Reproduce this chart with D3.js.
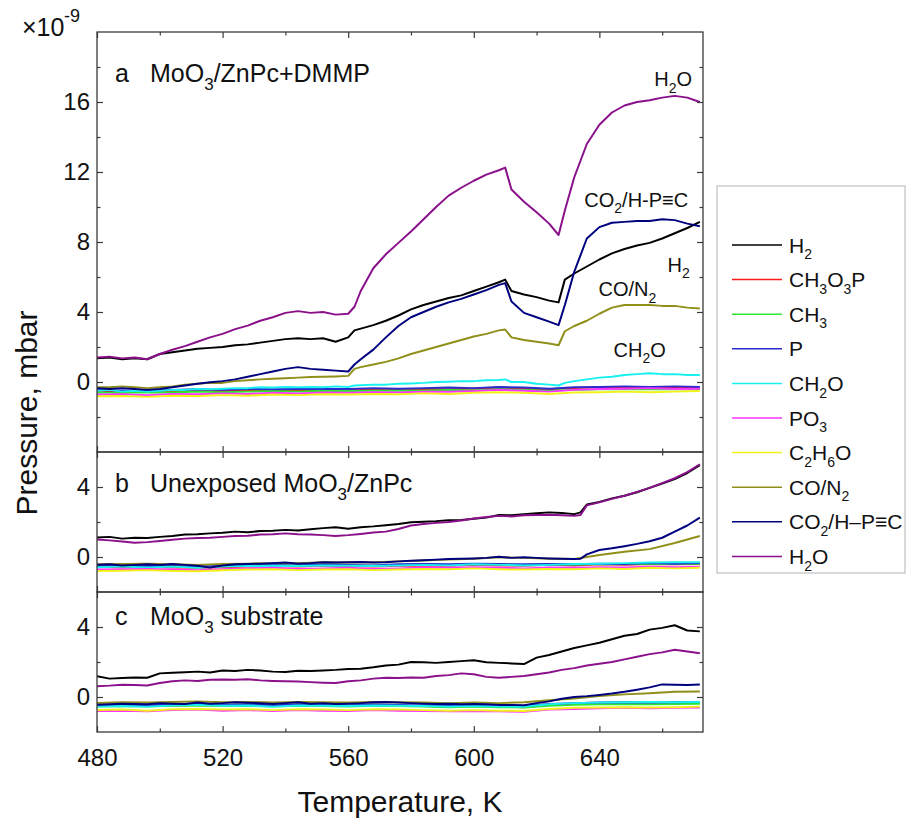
<!DOCTYPE html>
<html>
<head>
<meta charset="utf-8">
<script src="https://cdn.jsdelivr.net/npm/d3@7"></script>
<style>
  body { margin: 0; background: #fff; }
  svg { font-family: 'Liberation Sans', Arial, sans-serif; }
</style>
</head>
<body>
<svg width="907" height="818"></svg>
<script>
// Species, in legend order (underscore + digit = subscript)
const species = ['H_2', 'CH_3O_3P', 'CH_3', 'P', 'CH_2O', 'PO_3', 'C_2H_6O', 'CO/N_2', 'CO_2/H–P≡C', 'H_2O'];
const colors = ['#000000', '#ff1a1a', '#2ee82e', '#2b2bd0', '#19f0f0', '#ff33ff', '#f2f21a', '#8f8f1a', '#00007f', '#8b108b'];

const xTicks = [480, 500, 520, 540, 560, 580, 600, 620, 640, 660];
const xLabels = [480, 520, 560, 600, 640];

// Coarse temperature grid for the flat baseline traces
const tempBase = [480, 488, 496, 504, 512, 520, 528, 536, 544, 552, 560, 568, 576, 584, 592, 600, 608, 616, 624, 632, 640, 648, 656, 664, 672];

// ---- panel a: MoO3/ZnPc+DMMP ----
const tempA = [480, 484, 488, 492, 496, 500, 504, 508, 512, 516, 520, 524, 528, 532, 536, 540, 544, 548, 552, 556, 560,
  562, 564, 568, 572, 576, 580, 584, 588, 592, 596, 600, 604, 608, 610, 612, 616, 620, 624, 627, 629,
  632, 636, 640, 644, 648, 652, 656, 660, 664, 668, 672];
const h2A = [1.35, 1.40, 1.30, 1.35, 1.30, 1.60, 1.70, 1.80, 1.90, 1.95, 2.00, 2.10, 2.15, 2.25, 2.35, 2.45, 2.50, 2.45, 2.50, 2.30, 2.55,
  2.95, 3.05, 3.25, 3.50, 3.80, 4.15, 4.40, 4.60, 4.80, 4.95, 5.20, 5.45, 5.70, 5.85, 5.20, 5.00, 4.85, 4.65, 4.55, 5.85,
  6.20, 6.60, 7.00, 7.35, 7.60, 7.80, 7.95, 8.20, 8.50, 8.80, 9.15];
const ch2oA = [-0.50, -0.45, -0.55, -0.50, -0.55, -0.50, -0.45, -0.45, -0.40, -0.42, -0.38, -0.35, -0.35, -0.30, -0.32, -0.28, -0.30, -0.28, -0.30, -0.25, -0.28,
  -0.20, -0.18, -0.15, -0.15, -0.10, -0.08, -0.05, 0.00, 0.02, 0.05, 0.05, 0.10, 0.12, 0.15, 0.00, 0.00, -0.10, -0.15, -0.20, -0.05,
  0.05, 0.15, 0.25, 0.30, 0.40, 0.45, 0.50, 0.45, 0.45, 0.40, 0.40];
const coA = [-0.30, -0.30, -0.25, -0.30, -0.35, -0.30, -0.25, -0.15, -0.10, -0.05, -0.05, 0.05, 0.10, 0.15, 0.18, 0.22, 0.25, 0.28, 0.30, 0.32, 0.35,
  0.75, 0.85, 1.00, 1.15, 1.35, 1.60, 1.80, 2.00, 2.20, 2.40, 2.60, 2.75, 2.95, 3.00, 2.55, 2.40, 2.30, 2.20, 2.10, 2.90,
  3.20, 3.50, 3.90, 4.25, 4.40, 4.40, 4.40, 4.35, 4.35, 4.25, 4.20];
const co2A = [-0.35, -0.40, -0.35, -0.40, -0.45, -0.40, -0.30, -0.20, -0.10, -0.02, 0.05, 0.15, 0.30, 0.45, 0.60, 0.75, 0.85, 0.75, 0.70, 0.65, 0.60,
  1.00, 1.30, 1.85, 2.55, 3.20, 3.70, 4.00, 4.30, 4.55, 4.75, 5.00, 5.25, 5.55, 5.65, 4.60, 3.95, 3.70, 3.45, 3.25, 4.40,
  6.30, 8.20, 8.85, 9.10, 9.15, 9.20, 9.20, 9.30, 9.25, 9.05, 8.90];
const h2oA = [1.40, 1.45, 1.35, 1.40, 1.30, 1.60, 1.84, 2.05, 2.30, 2.55, 2.75, 3.02, 3.22, 3.50, 3.70, 3.95, 4.05, 3.95, 4.00, 3.85, 3.90,
  4.30, 5.20, 6.50, 7.30, 7.95, 8.60, 9.30, 10.00, 10.65, 11.10, 11.50, 11.85, 12.10, 12.25, 11.00, 10.30, 9.70, 9.05, 8.40, 9.80,
  11.70, 13.60, 14.70, 15.40, 15.80, 16.00, 16.10, 16.25, 16.35, 16.25, 16.00];
const ch3o3pA = [-0.55, -0.58, -0.52, -0.55, -0.50, -0.52, -0.48, -0.50, -0.45, -0.48, -0.45, -0.42, -0.45, -0.40, -0.42, -0.38, -0.32, -0.38, -0.42, -0.35, -0.30, -0.28, -0.32, -0.30, -0.35];
const ch3A = [-0.60, -0.62, -0.58, -0.60, -0.55, -0.58, -0.55, -0.52, -0.55, -0.50, -0.52, -0.50, -0.48, -0.50, -0.45, -0.48, -0.42, -0.45, -0.50, -0.45, -0.42, -0.40, -0.42, -0.40, -0.42];
const pA = [-0.45, -0.48, -0.50, -0.45, -0.42, -0.45, -0.40, -0.42, -0.40, -0.38, -0.40, -0.35, -0.38, -0.35, -0.32, -0.35, -0.28, -0.32, -0.38, -0.30, -0.28, -0.25, -0.28, -0.25, -0.28];
const po3A = [-0.72, -0.70, -0.75, -0.68, -0.70, -0.65, -0.68, -0.62, -0.65, -0.60, -0.62, -0.58, -0.60, -0.55, -0.55, -0.52, -0.45, -0.50, -0.55, -0.45, -0.40, -0.38, -0.35, -0.40, -0.38];
const c2h6oA = [-0.82, -0.80, -0.85, -0.78, -0.80, -0.75, -0.78, -0.72, -0.75, -0.70, -0.72, -0.68, -0.70, -0.65, -0.68, -0.62, -0.58, -0.62, -0.68, -0.60, -0.58, -0.55, -0.58, -0.55, -0.52];

// ---- panel b: unexposed MoO3/ZnPc ----
const tempB = [480, 484, 488, 492, 496, 500, 504, 508, 512, 516, 520, 524, 528, 532, 536, 540, 544, 548, 552, 556,
  560, 564, 568, 572, 576, 580, 584, 588, 592, 596, 600, 604, 608, 612, 616, 620, 624, 628, 632, 634,
  636, 640, 644, 648, 652, 656, 660, 664, 668, 672];
const h2B = [1.12, 1.15, 1.05, 1.10, 1.08, 1.15, 1.20, 1.28, 1.30, 1.35, 1.38, 1.45, 1.42, 1.48, 1.50, 1.55, 1.52, 1.58, 1.65, 1.70,
  1.62, 1.70, 1.75, 1.82, 1.88, 1.98, 2.02, 2.05, 2.10, 2.12, 2.18, 2.25, 2.40, 2.38, 2.45, 2.50, 2.55, 2.52, 2.45, 2.55,
  3.00, 3.15, 3.35, 3.50, 3.70, 3.95, 4.20, 4.45, 4.80, 5.25];
const co2B = [-0.45, -0.42, -0.48, -0.45, -0.42, -0.45, -0.40, -0.45, -0.50, -0.60, -0.48, -0.42, -0.40, -0.38, -0.35, -0.32, -0.38, -0.35, -0.30, -0.32,
  -0.30, -0.28, -0.32, -0.30, -0.25, -0.22, -0.18, -0.15, -0.12, -0.10, -0.08, -0.05, 0.02, -0.05, -0.02, -0.05, -0.08, -0.10, -0.12, -0.10,
  0.15, 0.40, 0.50, 0.62, 0.75, 0.90, 1.10, 1.45, 1.80, 2.25];
const h2oB = [1.00, 0.95, 0.88, 0.82, 0.85, 0.92, 0.98, 1.05, 1.08, 1.10, 1.15, 1.20, 1.22, 1.28, 1.30, 1.35, 1.30, 1.28, 1.25, 1.20,
  1.25, 1.32, 1.40, 1.45, 1.60, 1.80, 1.88, 1.95, 2.00, 2.08, 2.20, 2.28, 2.35, 2.32, 2.38, 2.40, 2.42, 2.38, 2.35, 2.40,
  2.95, 3.12, 3.32, 3.50, 3.72, 3.95, 4.22, 4.50, 4.85, 5.30];
const ch3o3pB = [-0.55, -0.58, -0.55, -0.60, -0.62, -0.58, -0.55, -0.52, -0.55, -0.50, -0.52, -0.55, -0.50, -0.48, -0.50, -0.45, -0.48, -0.50, -0.45, -0.48, -0.42, -0.45, -0.40, -0.42, -0.40];
const ch3B = [-0.50, -0.52, -0.48, -0.55, -0.58, -0.52, -0.50, -0.48, -0.50, -0.45, -0.48, -0.50, -0.45, -0.42, -0.45, -0.40, -0.42, -0.45, -0.42, -0.45, -0.40, -0.42, -0.38, -0.40, -0.38];
const pB = [-0.50, -0.48, -0.52, -0.50, -0.55, -0.50, -0.48, -0.45, -0.48, -0.42, -0.45, -0.48, -0.42, -0.40, -0.42, -0.38, -0.40, -0.42, -0.40, -0.42, -0.38, -0.40, -0.35, -0.38, -0.35];
const ch2oB = [-0.58, -0.55, -0.60, -0.55, -0.62, -0.55, -0.52, -0.50, -0.52, -0.48, -0.50, -0.52, -0.48, -0.45, -0.48, -0.42, -0.45, -0.48, -0.45, -0.40, -0.38, -0.35, -0.32, -0.30, -0.30];
const po3B = [-0.72, -0.70, -0.68, -0.72, -0.75, -0.70, -0.65, -0.62, -0.68, -0.65, -0.62, -0.68, -0.65, -0.60, -0.62, -0.58, -0.62, -0.65, -0.60, -0.62, -0.58, -0.60, -0.55, -0.58, -0.55];
const c2h6oB = [-0.80, -0.78, -0.75, -0.80, -0.82, -0.76, -0.72, -0.70, -0.75, -0.72, -0.70, -0.75, -0.72, -0.68, -0.70, -0.65, -0.70, -0.72, -0.68, -0.70, -0.65, -0.68, -0.62, -0.65, -0.62];
const coB = [-0.42, -0.40, -0.38, -0.42, -0.45, -0.40, -0.38, -0.35, -0.35, -0.30, -0.32, -0.30, -0.25, -0.20, -0.15, -0.10, -0.02, -0.05, -0.10, -0.12, 0.12, 0.30, 0.45, 0.80, 1.20];

// ---- panel c: MoO3 substrate ----
const tempC = [480, 484, 488, 492, 496, 500, 504, 508, 512, 516, 520, 524, 528, 532, 536, 540, 544, 548, 552, 556,
  560, 564, 568, 572, 576, 580, 584, 588, 592, 596, 600, 604, 608, 612, 616, 620, 624, 628, 632, 636,
  640, 644, 648, 652, 656, 660, 664, 668, 672];
const h2C = [1.18, 1.05, 1.08, 1.12, 1.10, 1.35, 1.38, 1.42, 1.45, 1.40, 1.52, 1.48, 1.55, 1.52, 1.45, 1.43, 1.50, 1.48, 1.52, 1.55,
  1.60, 1.62, 1.70, 1.80, 1.85, 2.00, 1.98, 1.95, 2.00, 2.05, 2.10, 1.98, 1.95, 1.92, 1.88, 2.25, 2.40, 2.60, 2.80, 2.95,
  3.10, 3.30, 3.50, 3.60, 3.85, 3.95, 4.10, 3.80, 3.75];
const co2C = [-0.45, -0.42, -0.38, -0.40, -0.42, -0.35, -0.38, -0.40, -0.32, -0.38, -0.35, -0.30, -0.33, -0.36, -0.40, -0.35, -0.30, -0.38, -0.35, -0.40,
  -0.38, -0.35, -0.30, -0.28, -0.32, -0.35, -0.38, -0.40, -0.38, -0.42, -0.40, -0.42, -0.45, -0.45, -0.47, -0.35, -0.25, -0.10, 0.00, 0.05,
  0.12, 0.20, 0.30, 0.42, 0.55, 0.72, 0.70, 0.68, 0.72];
const h2oC = [0.62, 0.65, 0.70, 0.68, 0.66, 0.80, 0.90, 0.95, 0.92, 0.98, 1.00, 0.98, 1.02, 0.95, 0.92, 0.90, 0.88, 0.85, 0.82, 0.80,
  0.90, 0.95, 1.05, 1.10, 1.08, 1.12, 1.10, 1.20, 1.25, 1.35, 1.30, 1.15, 1.10, 1.15, 1.20, 1.30, 1.40, 1.55, 1.65, 1.80,
  1.90, 2.00, 2.15, 2.30, 2.45, 2.55, 2.70, 2.60, 2.50];
const ch3o3pC = [-0.50, -0.52, -0.48, -0.50, -0.45, -0.50, -0.48, -0.52, -0.48, -0.50, -0.52, -0.48, -0.50, -0.52, -0.55, -0.52, -0.55, -0.58, -0.45, -0.40, -0.38, -0.35, -0.38, -0.35, -0.32];
const ch3C = [-0.55, -0.52, -0.55, -0.50, -0.48, -0.52, -0.50, -0.55, -0.50, -0.52, -0.55, -0.50, -0.52, -0.55, -0.58, -0.55, -0.58, -0.60, -0.50, -0.45, -0.42, -0.40, -0.42, -0.40, -0.38];
const pC = [-0.48, -0.45, -0.48, -0.42, -0.40, -0.45, -0.42, -0.48, -0.42, -0.45, -0.48, -0.42, -0.45, -0.48, -0.50, -0.48, -0.50, -0.52, -0.40, -0.35, -0.32, -0.30, -0.32, -0.30, -0.28];
const ch2oC = [-0.55, -0.52, -0.55, -0.48, -0.45, -0.50, -0.48, -0.55, -0.48, -0.50, -0.52, -0.48, -0.50, -0.52, -0.55, -0.52, -0.55, -0.55, -0.42, -0.35, -0.32, -0.30, -0.28, -0.30, -0.28];
const po3C = [-0.80, -0.78, -0.82, -0.75, -0.72, -0.78, -0.75, -0.80, -0.75, -0.78, -0.80, -0.75, -0.78, -0.80, -0.82, -0.80, -0.82, -0.85, -0.72, -0.68, -0.65, -0.62, -0.65, -0.62, -0.60];
const c2h6oC = [-0.75, -0.72, -0.78, -0.70, -0.68, -0.72, -0.70, -0.75, -0.70, -0.72, -0.75, -0.70, -0.72, -0.75, -0.78, -0.75, -0.78, -0.80, -0.68, -0.62, -0.60, -0.58, -0.60, -0.58, -0.55];
const coC = [-0.35, -0.30, -0.32, -0.28, -0.25, -0.30, -0.28, -0.32, -0.28, -0.30, -0.32, -0.28, -0.30, -0.32, -0.35, -0.32, -0.35, -0.30, -0.18, -0.08, 0.05, 0.15, 0.22, 0.30, 0.32];

// Panel layout; traces listed in legend order
const panels = [
  {
    top: 32, bottom: 452, domain: [-4, 20],
    majors: [0, 4, 8, 12, 16], minors: [-2, 2, 6, 10, 14, 18],
    letter: 'a', title: 'MoO_3/ZnPc+DMMP', titleY: 82,
    traces: [[tempA, h2A], [tempBase, ch3o3pA], [tempBase, ch3A], [tempBase, pA], [tempA, ch2oA],
      [tempBase, po3A], [tempBase, c2h6oA], [tempA, coA], [tempA, co2A], [tempA, h2oA]]
  },
  {
    top: 452, bottom: 592, domain: [-2, 6],
    majors: [0, 4], minors: [2],
    letter: 'b', title: 'Unexposed MoO_3/ZnPc', titleY: 492,
    traces: [[tempB, h2B], [tempBase, ch3o3pB], [tempBase, ch3B], [tempBase, pB], [tempBase, ch2oB],
      [tempBase, po3B], [tempBase, c2h6oB], [tempBase, coB], [tempB, co2B], [tempB, h2oB]]
  },
  {
    top: 592, bottom: 732, domain: [-2, 6],
    majors: [0, 4], minors: [2],
    letter: 'c', title: 'MoO_3 substrate', titleY: 625,
    traces: [[tempC, h2C], [tempBase, ch3o3pC], [tempBase, ch3C], [tempBase, pC], [tempBase, ch2oC],
      [tempBase, po3C], [tempBase, c2h6oC], [tempBase, coC], [tempC, co2C], [tempC, h2oC]]
  }
];

// Curve labels in panel a
const notes = [
  { text: 'H_2O', T: 657.5, v: 16.9 },
  { text: 'CO_2/H-P≡C', T: 635.2, v: 10.0 },
  { text: 'H_2', T: 661.7, v: 6.3 },
  { text: 'CO/N_2', T: 639.7, v: 4.9 },
  { text: 'CH_2O', T: 644.5, v: 1.45 }
];

const svg = d3.select('svg');
const axisColor = '#3a3a3a';
const x = d3.scaleLinear().domain([480, 673]).range([97, 703]);

// Write a formula with subscripted digits
function chem(sel, str, size) {
  const sub = Math.round(size * 0.68);
  const drop = size * 0.32;
  let down = false;
  str.split(/_(\d)/).forEach((p, i) => {
    if (p === '') return;
    const t = sel.append('tspan').text(p);
    if (i % 2 === 1) {
      t.attr('font-size', sub).attr('dy', down ? 0 : drop);
      down = true;
    } else if (down) {
      t.attr('dy', -drop);
      down = false;
    }
  });
}

function styleAxis(g) {
  g.select('.domain').remove();
  g.selectAll('line').attr('stroke', axisColor).attr('stroke-width', 1.2);
  g.selectAll('text').attr('fill', '#111').attr('font-size', 24)
    .attr('font-family', "'Liberation Sans', Arial, sans-serif");
}

function drawPanel(p, i) {
  const y = d3.scaleLinear().domain(p.domain).range([p.bottom, p.top]);
  const g = svg.append('g');
  const clipId = 'clip' + i;

  g.append('clipPath').attr('id', clipId)
    .append('rect')
    .attr('x', x.range()[0]).attr('y', p.top)
    .attr('width', x.range()[1] - x.range()[0]).attr('height', p.bottom - p.top);

  const line = d3.line().x((d) => x(d[0])).y((d) => y(d[1]));
  const traces = g.append('g').attr('clip-path', 'url(#' + clipId + ')');
  p.traces.forEach((tr, k) => {
    traces.append('path')
      .datum(d3.zip(tr[0], tr[1]))
      .attr('fill', 'none')
      .attr('stroke', colors[k])
      .attr('stroke-width', 2)
      .attr('stroke-linejoin', 'round')
      .attr('d', line);
  });

  const xMajor = xTicks.filter((t) => (t - 480) % 40 === 0);
  const xMinor = xTicks.filter((t) => (t - 480) % 40 !== 0);
  const last = i === panels.length - 1;

  // bottom and top ticks, pointing inward
  g.append('g').attr('transform', 'translate(0,' + p.bottom + ')')
    .call(d3.axisBottom(x).tickValues(last ? xLabels : xMajor).tickSize(-6).tickPadding(17)
      .tickFormat(last ? d3.format('d') : () => ''))
    .call(styleAxis);
  g.append('g').attr('transform', 'translate(0,' + p.bottom + ')')
    .call(d3.axisBottom(x).tickValues(xMinor).tickSize(-3.5).tickFormat(() => ''))
    .call(styleAxis);
  g.append('g').attr('transform', 'translate(0,' + p.top + ')')
    .call(d3.axisTop(x).tickValues(xMajor).tickSize(-6).tickFormat(() => ''))
    .call(styleAxis);
  g.append('g').attr('transform', 'translate(0,' + p.top + ')')
    .call(d3.axisTop(x).tickValues(xMinor).tickSize(-3.5).tickFormat(() => ''))
    .call(styleAxis);

  // left and right ticks
  g.append('g').attr('transform', 'translate(' + x.range()[0] + ',0)')
    .call(d3.axisLeft(y).tickValues(p.majors).tickSize(-6).tickPadding(7).tickFormat(d3.format('d')))
    .call(styleAxis);
  g.append('g').attr('transform', 'translate(' + x.range()[0] + ',0)')
    .call(d3.axisLeft(y).tickValues(p.minors).tickSize(-3.5).tickFormat(() => ''))
    .call(styleAxis);
  g.append('g').attr('transform', 'translate(' + x.range()[1] + ',0)')
    .call(d3.axisRight(y).tickValues(p.majors).tickSize(-6).tickFormat(() => ''))
    .call(styleAxis);
  g.append('g').attr('transform', 'translate(' + x.range()[1] + ',0)')
    .call(d3.axisRight(y).tickValues(p.minors).tickSize(-3.5).tickFormat(() => ''))
    .call(styleAxis);

  g.append('rect')
    .attr('x', x.range()[0]).attr('y', p.top)
    .attr('width', x.range()[1] - x.range()[0]).attr('height', p.bottom - p.top)
    .attr('fill', 'none').attr('stroke', axisColor).attr('stroke-width', 1.3);

  // panel letter and title
  g.append('text').attr('x', 115).attr('y', p.titleY).attr('font-size', 25).attr('fill', '#111').text(p.letter);
  chem(g.append('text').attr('x', 150).attr('y', p.titleY).attr('font-size', 25).attr('fill', '#111'), p.title, 25);

  return y;
}

const yA = drawPanel(panels[0], 0);
panels.slice(1).forEach((p, i) => drawPanel(p, i + 1));

// labels next to the curves of panel a
notes.forEach((n) => {
  chem(svg.append('text')
    .attr('x', x(n.T)).attr('y', yA(n.v))
    .attr('font-size', 20).attr('fill', '#111'), n.text, 20);
});

// multiplier
svg.append('text').attr('x', 22).attr('y', 36).attr('font-size', 25).attr('fill', '#111').text('×10');
svg.append('text').attr('x', 64).attr('y', 22).attr('font-size', 18).attr('fill', '#111').text('-9');

// axis titles
svg.append('text')
  .attr('transform', 'translate(37,413) rotate(-90)')
  .attr('text-anchor', 'middle')
  .attr('font-size', 30).attr('fill', '#111')
  .text('Pressure, mbar');
svg.append('text')
  .attr('x', 400).attr('y', 812)
  .attr('text-anchor', 'middle')
  .attr('font-size', 30).attr('fill', '#111')
  .text('Temperature, K');

// legend
const legend = svg.append('g');
legend.append('rect')
  .attr('x', 717).attr('y', 186).attr('width', 188).attr('height', 387)
  .attr('fill', '#fff').attr('stroke', '#b4b4b4').attr('stroke-width', 1);
species.forEach((s, k) => {
  const ly = 245 + k * 34.6;
  legend.append('line')
    .attr('x1', 732).attr('x2', 782).attr('y1', ly).attr('y2', ly)
    .attr('stroke', colors[k]).attr('stroke-width', 1.5);
  chem(legend.append('text').attr('x', 789).attr('y', ly + 7.5).attr('font-size', 21).attr('fill', '#111'), s, 21);
});
</script>
</body>
</html>
